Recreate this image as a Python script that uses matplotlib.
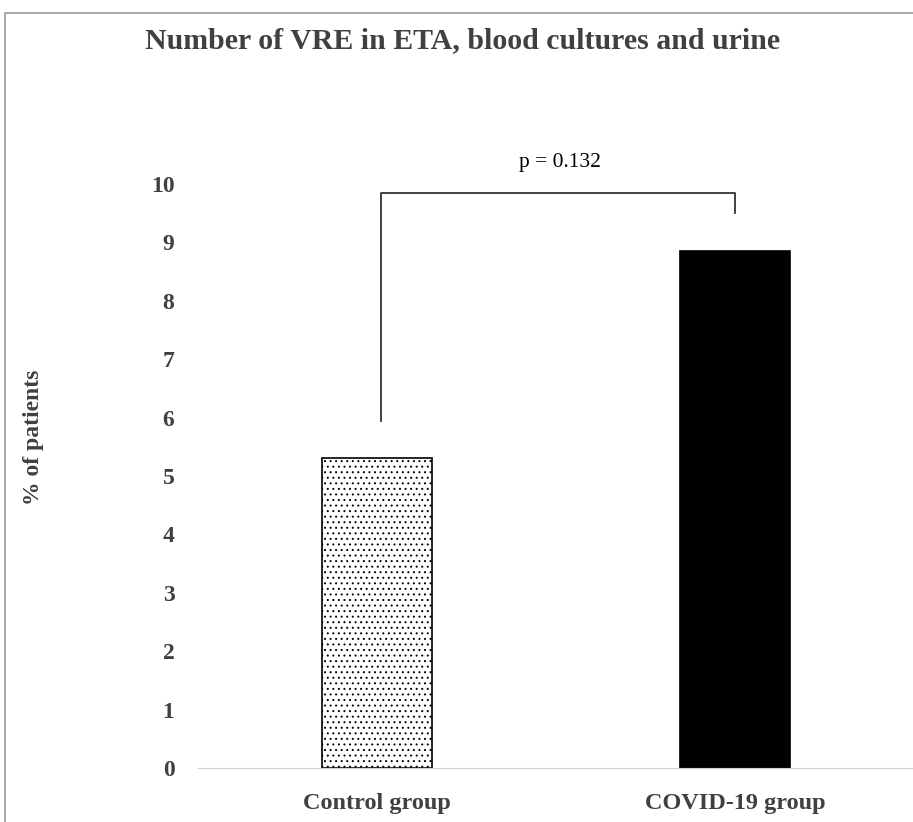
import numpy as np
import matplotlib.pyplot as plt
from matplotlib.patches import Rectangle

groups = ['Control group', 'COVID-19 group']
values = [5.3, 8.85]
yticks = list(range(0, 11))
p_text = 'p = 0.132'

plt.rcParams['font.family'] = ['Liberation Serif', 'DejaVu Serif']
plt.rcParams['hatch.linewidth'] = 0.7
plt.rcParams['hatch.color'] = '#8a8a8a'
txt = '#404040'

fig = plt.figure(figsize=(9.13, 8.22), dpi=100)
ax = fig.add_axes([198/913, (822-768)/822, 716/913, (768-184)/822])
ax.set_ylim(0, 10)
ax.set_xlim(-0.5, 1.5)

x = np.arange(len(groups))
b = ax.bar(x, values, width=0.31, color=['white', 'black'], edgecolor='black', linewidth=1.2)
b[0].set_hatch('...')

# significance bracket
ax.plot([0.01, 0.01, 1.0, 1.0], [5.95, 9.85, 9.85, 9.5], color='#333333', lw=1.3, clip_on=False)
ax.text(0.51, 10.2, p_text, ha='center', va='bottom', fontsize=15.5, color='black')

ax.set_yticks(yticks)
ax.set_xticks(x)
ax.set_xticklabels(groups, fontsize=17.5, fontweight='bold', color=txt)
ax.tick_params(axis='y', length=0, pad=17, labelsize=17, labelcolor=txt)
ax.tick_params(axis='x', length=0, pad=18)
for lab in ax.get_yticklabels():
    lab.set_fontweight('bold')
for s in ['top', 'right', 'left']:
    ax.spines[s].set_visible(False)
ax.spines['bottom'].set_color('#d0d0d0')

fig.text(34/913, 1 - 437/822, '% of patients', rotation=90, ha='center', va='center',
         fontsize=17, fontweight='bold', color=txt)
fig.text(463/913, 1 - 41/822, 'Number of VRE in ETA, blood cultures and urine', ha='center', va='center',
         fontsize=21.5, fontweight='bold', color=txt)

# chart frame
fig.patches.append(Rectangle((5/913, -0.1), 1.2, (822-13)/822 + 0.1, transform=fig.transFigure,
                             fill=False, edgecolor='#999999', lw=1.2))

fig.savefig('out.png', dpi=100)
